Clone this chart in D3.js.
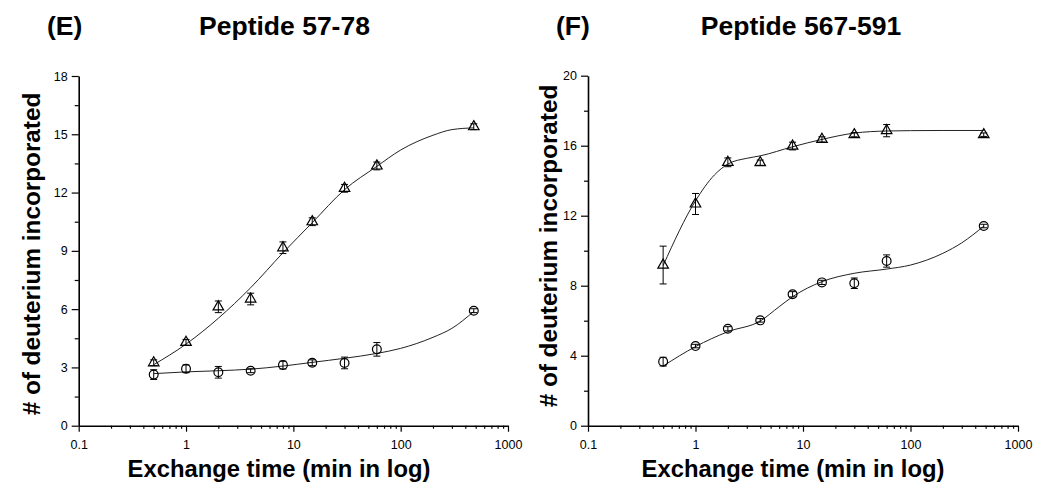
<!DOCTYPE html>
<html><head><meta charset="utf-8">
<script src="https://cdn.jsdelivr.net/npm/d3@7"></script>
<style>
body{margin:0;background:#fff;}
svg text{font-family:"Liberation Sans",Arial,sans-serif;fill:#000;}
</style></head>
<body><svg id="c" width="1050" height="494"></svg>
<script>
// ---- data ----
const times = [0.5, 1, 2, 4, 8, 15, 30, 60, 480];

// Panel E: Peptide 57-78
const eTri    = [3.24, 4.29, 6.12, 6.52, 9.16, 10.50, 12.22, 13.37, 15.39];
const eTriErr = [0.15, 0.15, 0.30, 0.30, 0.30, 0.20, 0.20, 0.20, 0.15];
const eCir    = [2.63, 2.93, 2.75, 2.83, 3.12, 3.24, 3.23, 3.93, 5.92];
const eCirErr = [0.25, 0.20, 0.30, 0.10, 0.20, 0.15, 0.30, 0.35, 0.10];
const eFitX    = [0.5, 1, 2, 4, 8, 15, 30, 60, 100, 200, 300, 480];
const eTriFit  = [3.14, 4.20, 5.53, 7.10, 8.90, 10.45, 12.15, 13.35, 14.19, 14.95, 15.24, 15.33];
const eCirFit  = [2.68, 2.77, 2.83, 2.91, 3.07, 3.26, 3.47, 3.72, 3.98, 4.55, 5.01, 5.88];

// Panel F: Peptide 567-591
const fTri    = [9.18, 12.67, 15.05, 15.03, 15.98, 16.36, 16.63, 16.86, 16.63];
const fTriErr = [1.08, 0.60, 0.25, 0.15, 0.22, 0.15, 0.12, 0.35, 0.10];
const fCir    = [3.66, 4.55, 5.54, 6.02, 7.51, 8.19, 8.14, 9.41, 11.41];
const fCirErr = [0.25, 0.10, 0.12, 0.10, 0.15, 0.12, 0.30, 0.35, 0.10];
const fFitX    = [0.5, 1, 1.5, 2, 3, 4, 8, 15, 30, 60, 100, 200, 480];
const fTriFit  = [9.15, 12.85, 14.33, 14.95, 15.28, 15.42, 15.94, 16.36, 16.72, 16.84, 16.86, 16.87, 16.87];
const fCirFitX = [0.5, 1, 2, 4, 6, 8, 15, 30, 60, 100, 200, 300, 480];
const fCirFit  = [3.41, 4.52, 5.37, 5.98, 6.80, 7.37, 8.23, 8.71, 8.95, 9.18, 9.85, 10.45, 11.40];

const xTickLabels = ["0.1", "1", "10", "100", "1000"];
const eYTicks = [0, 3, 6, 9, 12, 15, 18];
const fYTicks = [0, 4, 8, 12, 16, 20];

const panelLabels = ["(E)", "(F)"];
const titles = ["Peptide 57-78", "Peptide 567-591"];
const xTitle = "Exchange time (min in log)";
const yTitle = "# of deuterium incorporated";

// ---- drawing ----
const svg = d3.select("#c");

const panels = [
  {x0: 78.7, x1: 508, yTop: 76, yBot: 425.7, ymax: 18, yTicks: eYTicks, ystep: 3,
   tri: eTri, triErr: eTriErr, cir: eCir, cirErr: eCirErr,
   triFitX: eFitX, triFit: eTriFit, cirFitX: eFitX, cirFit: eCirFit,
   labX: 47, titleX: 284.5, xTitleX: 279, yTitleX: 40, yTitleY: 254},
  {x0: 588, x1: 1018, yTop: 75.7, yBot: 425.7, ymax: 20, yTicks: fYTicks, ystep: 4,
   tri: fTri, triErr: fTriErr, cir: fCir, cirErr: fCirErr,
   triFitX: fFitX, triFit: fTriFit, cirFitX: fCirFitX, cirFit: fCirFit,
   labX: 556, titleX: 801, xTitleX: 793, yTitleX: 556.5, yTitleY: 246}
];

panels.forEach((p, i) => {
  const g = svg.append("g");
  const x = d3.scaleLog().domain([0.1, 1000]).range([p.x0, p.x1]);
  const y = d3.scaleLinear().domain([0, p.ymax]).range([p.yBot, p.yTop]);

  // minor ticks
  const xMinor = [];
  [0.1, 1, 10, 100].forEach(d => { for (let k = 2; k <= 9; k++) xMinor.push(d * k); });
  const yMinor = d3.range(p.ystep / 2, p.ymax, p.ystep);

  const xMaj = xTickLabels.map(Number);
  g.append("g").attr("transform", `translate(0,${p.yBot})`)
    .call(d3.axisBottom(x).tickValues(xMaj).tickFormat((d, j) => xTickLabels[j]).tickSize(6).tickPadding(8).tickSizeOuter(0));
  g.append("g").attr("transform", `translate(0,${p.yBot})`)
    .call(d3.axisBottom(x).tickValues(xMinor).tickFormat("").tickSize(3).tickSizeOuter(0))
    .select(".domain").remove();
  g.append("g").attr("transform", `translate(${p.x0},0)`)
    .call(d3.axisLeft(y).tickValues(p.yTicks).tickSize(7).tickPadding(4).tickSizeOuter(0));
  g.append("g").attr("transform", `translate(${p.x0},0)`)
    .call(d3.axisLeft(y).tickValues(yMinor).tickFormat("").tickSize(4).tickSizeOuter(0))
    .select(".domain").remove();
  g.selectAll(".domain").attr("stroke", "#000").attr("stroke-width", 1.6);
  g.selectAll(".tick line").attr("stroke", "#000").attr("stroke-width", 1.2);
  g.selectAll(".tick text").attr("font-size", 12.5).attr("font-family", "Liberation Sans, Arial, sans-serif").attr("fill", "#000");

  // fit curves
  const line = d3.line().x(d => x(d[0])).y(d => y(d[1])).curve(d3.curveMonotoneX);
  g.append("path").datum(d3.zip(p.triFitX, p.triFit)).attr("d", line)
    .attr("fill", "none").attr("stroke", "#222").attr("stroke-width", 1);
  g.append("path").datum(d3.zip(p.cirFitX, p.cirFit)).attr("d", line)
    .attr("fill", "none").attr("stroke", "#222").attr("stroke-width", 1);

  // error bars
  const drawErr = (vals, errs) => {
    const eg = g.append("g").attr("stroke", "#000").attr("stroke-width", 1);
    times.forEach((t, j) => {
      const cx = x(t), top = y(vals[j] + errs[j]), bot = y(vals[j] - errs[j]);
      eg.append("line").attr("x1", cx).attr("x2", cx).attr("y1", top).attr("y2", bot);
      eg.append("line").attr("x1", cx - 3.5).attr("x2", cx + 3.5).attr("y1", top).attr("y2", top);
      eg.append("line").attr("x1", cx - 3.5).attr("x2", cx + 3.5).attr("y1", bot).attr("y2", bot);
    });
  };
  drawErr(p.tri, p.triErr);
  drawErr(p.cir, p.cirErr);

  // markers
  const triSym = d3.symbol().type(d3.symbolTriangle).size(48);
  g.append("g").selectAll("path").data(times).join("path")
    .attr("d", triSym)
    .attr("transform", (t, j) => `translate(${x(t)},${y(p.tri[j])})`)
    .attr("fill", "none").attr("stroke", "#000").attr("stroke-width", 1.2);
  g.append("g").selectAll("circle").data(times).join("circle")
    .attr("cx", t => x(t)).attr("cy", (t, j) => y(p.cir[j])).attr("r", 4.4)
    .attr("fill", "none").attr("stroke", "#000").attr("stroke-width", 1.2);

  // texts
  svg.append("text").attr("x", p.labX).attr("y", 35).attr("font-size", 26.5).attr("font-weight", "bold").text(panelLabels[i]);
  svg.append("text").attr("x", p.titleX).attr("y", 35).attr("text-anchor", "middle").attr("font-size", 26.5).attr("font-weight", "bold").text(titles[i]);
  svg.append("text").attr("x", p.xTitleX).attr("y", 477).attr("text-anchor", "middle").attr("font-size", 23.8).attr("font-weight", "bold").text(xTitle);
  svg.append("text").attr("transform", `translate(${p.yTitleX},${p.yTitleY}) rotate(-90)`).attr("text-anchor", "middle")
    .attr("font-size", 24.3).attr("font-weight", "bold").text(yTitle);
});
</script></body></html>
